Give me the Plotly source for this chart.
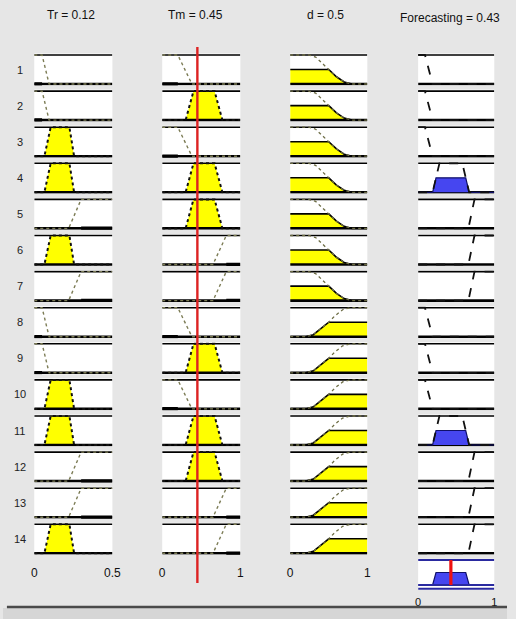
import numpy as np
import plotly.graph_objects as go

# ---------------- data ----------------
rule_ids = list(range(1, 15))
rule_Tr = ["low", "low", "mid", "mid", "high", "mid", "high",
           "low", "low", "mid", "mid", "high", "high", "mid"]
rule_T = ["low", "mid", "low", "mid", "mid", "high", "high",
          "low", "mid", "low", "mid", "mid", "high", "high"]
rule_d = ["small", "small", "small", "small", "small", "small", "small",
          "large", "large", "large", "large", "large", "large", "large"]
rule_F = ["low", "low", "low", "mid", "high", "high", "high",
          "low", "low", "low", "mid", "high", "high", "high"]

# membership-function breakpoints (x, mu)
mf_Tr = {"low": ([0, 0.05, 0.095, 0.5], [1, 1, 0, 0]),
         "mid": ([0, 0.065, 0.105, 0.225, 0.255, 0.5], [0, 0, 1, 1, 0, 0]),
         "high": ([0, 0.22, 0.30, 0.5], [0, 0, 1, 1])}
mf_T = {"low": ([0, 0.2, 0.38, 1], [1, 1, 0, 0]),
        "mid": ([0, 0.3, 0.4, 0.67, 0.77, 1], [0, 0, 1, 1, 0, 0]),
        "high": ([0, 0.65, 0.82, 1], [0, 0, 1, 1])}
mf_d = {"small": ([0, 0.24, 0.33, 0.42, 0.5, 0.6, 0.7, 0.8, 1],
                  [1, 1, 0.93, 0.72, 0.5, 0.25, 0.07, 0, 0]),
        "large": ([0, 0.2, 0.3, 0.4, 0.5, 0.58, 0.68, 0.78, 1],
                  [0, 0, 0.07, 0.27, 0.5, 0.72, 0.93, 1, 1])}
mf_F = {"low": ([0, 0.09, 0.19, 1], [1, 1, 0, 0]),
        "mid": ([0, 0.19, 0.28, 0.58, 0.67, 1], [0, 0, 1, 1, 0, 0]),
        "high": ([0, 0.66, 0.74, 1], [0, 0, 1, 1])}

input_labels = ["Tr", "Tm", "d"]
input_values = [0.12, 0.45, 0.5]
input_max = [0.5, 1, 1]
input_ticktext = [["0", "0.5"], ["0", "1"], ["0", "1"]]
output_label = "Forecasting"
output_value = 0.43

# ---------------- layout constants (pixels) ----------------
W, H = 516, 619
BG = "#e6e6e6"
col_x = [(32, 112), (163, 243), (294, 373), (425, 503)]
row_top0, row_pitch, row_h = 55, 36.1, 29
agg_top, agg_bot = 560, 585
YPAD = 0.05
FONT = "Liberation Sans"

def px(x):
    return x / W

def py(y):
    return 1 - y / H

def clip(xs, ys, L):
    ox, oy = [], []
    for i in range(len(xs)):
        if i > 0:
            x0, y0, x1, y1 = xs[i - 1], ys[i - 1], xs[i], ys[i]
            if (y0 - L) * (y1 - L) < 0:
                t = (L - y0) / (y1 - y0)
                ox.append(x0 + t * (x1 - x0))
                oy.append(L)
        ox.append(xs[i])
        oy.append(min(ys[i], L))
    return ox, oy

fig = go.Figure()
layout_axes = {}
shapes = []
annotations = []

def ax_names(k):
    return ("xaxis" if k == 1 else f"xaxis{k}", "yaxis" if k == 1 else f"yaxis{k}",
            "x" if k == 1 else f"x{k}", "y" if k == 1 else f"y{k}")

def line_tr(x, y, xr, yr, color, width, dash="solid"):
    fig.add_trace(go.Scatter(x=x, y=y, mode="lines",
                             line=dict(color=color, width=width, dash=dash),
                             xaxis=xr, yaxis=yr, hoverinfo="skip"))

mfs = [mf_Tr, mf_T, mf_d]
rules_in = [rule_Tr, rule_T, rule_d]
out_clips = []

k = 0
for r in range(14):
    top = row_top0 + r * row_pitch
    bot = top + row_h
    levels = []
    for c in range(4):
        k += 1
        xa, ya, xr, yr = ax_names(k)
        xmax = input_max[c] if c < 3 else 1
        x0p, x1p = col_x[c]
        xaxis = dict(domain=[px(x0p), px(x1p)], range=[0, xmax], showgrid=False,
                     zeroline=False, showticklabels=False, fixedrange=True,
                     anchor=yr)
        if r == 13 and c < 3:
            xaxis.update(showticklabels=True, tickvals=[0, xmax],
                         ticktext=input_ticktext[c], ticks="outside", ticklen=7,
                         tickcolor="rgba(0,0,0,0)",
                         tickfont=dict(family=FONT, size=12, color="#111"))
        layout_axes[xa] = xaxis
        layout_axes[ya] = dict(domain=[py(bot + YPAD * row_h), py(top - YPAD * row_h)],
                               range=[-YPAD, 1 + YPAD], showgrid=False, zeroline=False,
                               showticklabels=False, fixedrange=True, anchor=xr)
        if c < 3:
            xs, ys = mfs[c][rules_in[c][r]]
            L = float(np.interp(input_values[c], xs, ys))
            levels.append(L)
            if L > 0:
                cx, cy = clip(xs, ys, L)
                fig.add_trace(go.Scatter(x=cx, y=cy, fill="tozeroy", fillcolor="#ffff00",
                                         mode="lines",
                                         line=dict(color="#000" if c == 2 else "rgba(0,0,0,0)",
                                                   width=1.6),
                                         xaxis=xr, yaxis=yr, hoverinfo="skip"))
                lcol, lw = ("#111", 2) if c < 2 else ("#6d6d45", 1.3)
            else:
                lcol, lw = "#7c7c55", 1.4
            line_tr([0, xmax], [1, 1], xr, yr, "#000", 1.6)
            line_tr([0, xmax], [0, 0], xr, yr, "#000", 2.6)
            if L == 0:
                sup = [x for x, y in zip(xs, ys) if y > 0]
                line_tr([min(sup), min(max(sup), xmax)], [0, 0], xr, yr, "#000", 3.6)
            line_tr(xs, ys, xr, yr, lcol, lw, "dot")
        else:
            fire = min(levels)
            xs, ys = mf_F[rule_F[r]]
            line_tr([0, 1], [1, 1], xr, yr, "#000", 1.6)
            line_tr([0, 1], [0, 0], xr, yr, "#000", 2.6)
            if fire > 0:
                cx, cy = clip(xs, ys, fire)
                out_clips.append((cx, cy))
                fig.add_trace(go.Scatter(x=cx, y=cy, fill="tozeroy", fillcolor="#4646f0",
                                         mode="lines", line=dict(color="#10106a", width=1.2),
                                         xaxis=xr, yaxis=yr, hoverinfo="skip"))
            line_tr(xs, ys, xr, yr, "#111", 1.8, "dash")
    annotations.append(dict(x=px(17), y=py(top + row_h / 2), xref="paper", yref="paper",
                            xanchor="center", yanchor="middle",
                            text=str(rule_ids[r]), showarrow=False,
                            font=dict(family=FONT, size=11, color="#222")))

# aggregated output panel
k += 1
xa, ya, xr, yr = ax_names(k)
agg_h = agg_bot - agg_top
layout_axes[xa] = dict(domain=[px(col_x[3][0]), px(col_x[3][1])], range=[0, 1],
                       showgrid=False, zeroline=False, fixedrange=True, anchor=yr,
                       showticklabels=True, tickvals=[0, 1], ticktext=["0", "1"],
                       ticks="outside", ticklen=2, tickcolor="rgba(0,0,0,0)",
                       tickfont=dict(family=FONT, size=11, color="#111"))
layout_axes[ya] = dict(domain=[py(agg_bot + 0.2 * agg_h), py(agg_top - YPAD * agg_h)],
                       range=[-0.2, 1 + YPAD], showgrid=False, zeroline=False,
                       showticklabels=False, fixedrange=True, anchor=xr)
grid = sorted(set(x for cx, _ in out_clips for x in cx))
agg_y = [max(float(np.interp(g, cx, cy)) for cx, cy in out_clips) for g in grid]
fig.add_trace(go.Scatter(x=grid, y=agg_y, fill="tozeroy", fillcolor="#4646f0", mode="lines",
                         line=dict(color="#10106a", width=1.2),
                         xaxis=xr, yaxis=yr, hoverinfo="skip"))
for yv in [1, 0, -0.15]:
    line_tr([0, 1], [yv, yv], xr, yr, "#2a2aa0", 2.2)
line_tr([output_value, output_value], [0, 1], xr, yr, "#ee1111", 3.2)

# red input line through the T column
shapes.append(dict(type="line", xref="x2", yref="paper", x0=input_values[1], x1=input_values[1],
                   y0=py(583), y1=py(47), line=dict(color="#dd2222", width=2.4), layer="above"))

# bottom window bar
shapes.append(dict(type="rect", xref="paper", yref="paper", x0=0, x1=1, y0=0, y1=py(608),
                   fillcolor="#d6d6d6", line=dict(width=0), layer="above"))
shapes.append(dict(type="line", xref="paper", yref="paper", x0=px(4), x1=1, y0=py(607),
                   y1=py(607), line=dict(color="#4a4a4a", width=2.5), layer="above"))

# titles
title_pos = [(70, 15), (197, 15), (330, 15), (458, 18)]
titles = [f"{n} = {v:g}" for n, v in zip(input_labels, input_values)] + \
         [f"{output_label} = {output_value:g}"]
for (tx, ty), t in zip(title_pos, titles):
    annotations.append(dict(x=px(tx), y=py(ty), xref="paper", yref="paper", text=t,
                            xanchor="center", yanchor="middle", showarrow=False,
                            font=dict(family=FONT, size=12, color="#111")))

fig.update_layout(width=W, height=H, margin=dict(l=0, r=0, t=0, b=0),
                  paper_bgcolor=BG, plot_bgcolor="#ffffff", showlegend=False,
                  shapes=shapes, annotations=annotations, **layout_axes)
fig.write_html("out.html", config={"displayModeBar": False, "staticPlot": True},
               post_script="document.body.style.margin='0px';document.body.style.overflow='hidden';")
